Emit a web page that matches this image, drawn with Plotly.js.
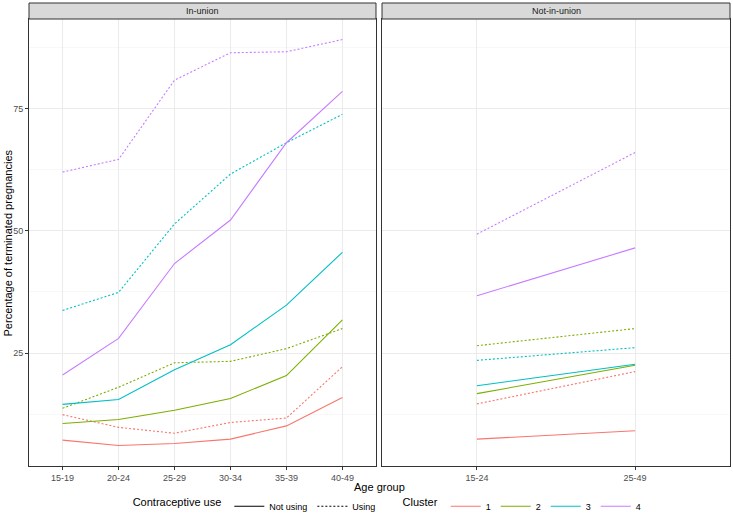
<!DOCTYPE html>
<html>
<head>
<meta charset="utf-8">
<script src="https://cdn.plot.ly/plotly-3.0.1.min.js"></script>
<style>
  html, body { margin: 0; padding: 0; background: #fff; }
  #chart { width: 733px; height: 524px; }
</style>
</head>
<body>
<div id="chart"></div>
<script>
// age groups for each facet
var ageIn = ['15-19', '20-24', '25-29', '30-34', '35-39', '40-49'];
var ageNot = ['15-24', '25-49'];

var clusters = ['1', '2', '3', '4'];
var clusterColors = ['#F8766D', '#7CAE00', '#00BFC4', '#C77CFF'];

// In-union, one row per cluster
var inNotUsing = [
  [7.2, 6.1, 6.5, 7.4, 10.1, 15.9],
  [10.6, 11.4, 13.3, 15.7, 20.4, 31.8],
  [14.5, 15.5, 21.6, 26.7, 34.8, 45.6],
  [20.5, 28.0, 43.3, 52.2, 68.0, 78.5]
];
var inUsing = [
  [12.4, 9.8, 8.6, 10.8, 11.7, 22.2],
  [13.7, 18.0, 23.0, 23.3, 25.9, 30.0],
  [33.7, 37.4, 51.4, 61.6, 68.0, 73.8],
  [62.0, 64.6, 80.8, 86.4, 86.6, 89.1]
];

// Not-in-union, one row per cluster
var notNotUsing = [
  [7.4, 9.1],
  [16.7, 22.5],
  [18.3, 22.7],
  [36.7, 46.5]
];
var notUsing = [
  [14.6, 21.2],
  [26.5, 30.0],
  [23.5, 26.1],
  [49.3, 66.0]
];

var dotted = '2px,2px';
var data = [];

// panel lines
for (var i = 0; i < clusters.length; i++) {
  data.push({x: ageIn, y: inNotUsing[i], xaxis: 'x', yaxis: 'y', mode: 'lines',
    line: {color: clusterColors[i], width: 1.1}, showlegend: false, hoverinfo: 'skip'});
  data.push({x: ageIn, y: inUsing[i], xaxis: 'x', yaxis: 'y', mode: 'lines',
    line: {color: clusterColors[i], width: 1.1, dash: dotted}, showlegend: false, hoverinfo: 'skip'});
  data.push({x: ageNot, y: notNotUsing[i], xaxis: 'x2', yaxis: 'y2', mode: 'lines',
    line: {color: clusterColors[i], width: 1.1}, showlegend: false, hoverinfo: 'skip'});
  data.push({x: ageNot, y: notUsing[i], xaxis: 'x2', yaxis: 'y2', mode: 'lines',
    line: {color: clusterColors[i], width: 1.1, dash: dotted}, showlegend: false, hoverinfo: 'skip'});
}

// legend entries only
data.push({x: [null], y: [null], mode: 'lines', name: 'Not using', legend: 'legend',
  line: {color: '#000', width: 1.1}});
data.push({x: [null], y: [null], mode: 'lines', name: 'Using', legend: 'legend',
  line: {color: '#000', width: 1.1, dash: dotted}});
for (var j = 0; j < clusters.length; j++) {
  data.push({x: [null], y: [null], mode: 'lines', name: clusters[j], legend: 'legend2',
    line: {color: clusterColors[j], width: 1.1}});
}

var tickFont = {family: 'Liberation Sans, Arial, sans-serif', size: 9, color: '#4D4D4D'};
var titleFont = {family: 'Liberation Sans, Arial, sans-serif', size: 11, color: '#000'};

function xAxis(domain, anchor, nCats) {
  return {
    domain: domain, anchor: anchor, type: 'category', range: [-0.6, nCats - 0.4],
    showgrid: true, gridcolor: '#EBEBEB', gridwidth: 1, zeroline: false,
    ticks: 'outside', ticklen: 3, tickcolor: '#333', tickwidth: 1,
    tickfont: tickFont, showline: true, mirror: true, linecolor: '#333', linewidth: 1,
    fixedrange: true
  };
}

function yAxis(anchor, labels) {
  return {
    anchor: anchor, range: [1.9, 93.3], tickvals: [25, 50, 75],
    showticklabels: labels, ticks: labels ? 'outside' : '', ticklen: 3, tickcolor: '#333',
    tickfont: tickFont, showgrid: true, gridcolor: '#EBEBEB', gridwidth: 1, zeroline: false,
    minor: {tickvals: [12.5, 37.5, 62.5, 87.5], showgrid: true, gridcolor: '#F3F3F3', gridwidth: 0.6},
    showline: true, mirror: true, linecolor: '#333', linewidth: 1, fixedrange: true
  };
}

var stripH = 16 / 447;
var shapes = [];
var annotations = [];
var facets = [['x', 'y', 'In-union'], ['x2', 'y2', 'Not-in-union']];
facets.forEach(function (f) {
  shapes.push({type: 'rect', xref: f[0] + ' domain', yref: f[1] + ' domain',
    x0: 0, x1: 1, y0: 1, y1: 1 + stripH, fillcolor: '#D9D9D9',
    line: {color: '#333', width: 1}});
  annotations.push({text: f[2], xref: f[0] + ' domain', yref: f[1] + ' domain',
    x: 0.5, y: 1 + stripH / 2, xanchor: 'center', yanchor: 'middle', showarrow: false,
    font: {family: 'Liberation Sans, Arial, sans-serif', size: 9, color: '#1A1A1A'}});
});

annotations.push({text: 'Age group', xref: 'paper', yref: 'paper', x: 0.5, y: -0.047,
  xanchor: 'center', yanchor: 'middle', showarrow: false, font: titleFont});
annotations.push({text: 'Percentage of terminated pregnancies', xref: 'paper', yref: 'paper',
  x: -0.03, y: 0.5, xanchor: 'center', yanchor: 'middle', textangle: -90,
  showarrow: false, font: titleFont});

var legendFont = {family: 'Liberation Sans, Arial, sans-serif', size: 9, color: '#000'};

var layout = {
  width: 733, height: 524,
  margin: {l: 29, r: 3, t: 19, b: 58},
  paper_bgcolor: '#fff', plot_bgcolor: '#fff',
  font: {family: 'Liberation Sans, Arial, sans-serif'},
  xaxis: xAxis([0, 0.495], 'y', ageIn.length),
  xaxis2: xAxis([0.5036, 1], 'y2', ageNot.length),
  yaxis: yAxis('x', true),
  yaxis2: yAxis('x2', false),
  shapes: shapes,
  annotations: annotations,
  legend: {
    orientation: 'h', x: 0.145, xanchor: 'left', y: -0.09, yanchor: 'middle',
    title: {text: 'Contraceptive use', side: 'left', font: titleFont},
    font: legendFont, itemwidth: 30, bgcolor: 'rgba(0,0,0,0)'
  },
  legend2: {
    orientation: 'h', x: 0.53, xanchor: 'left', y: -0.09, yanchor: 'middle',
    title: {text: 'Cluster', side: 'left', font: titleFont},
    font: legendFont, itemwidth: 30, bgcolor: 'rgba(0,0,0,0)'
  }
};

Plotly.newPlot('chart', data, layout, {displayModeBar: false, staticPlot: true});
</script>
</body>
</html>
